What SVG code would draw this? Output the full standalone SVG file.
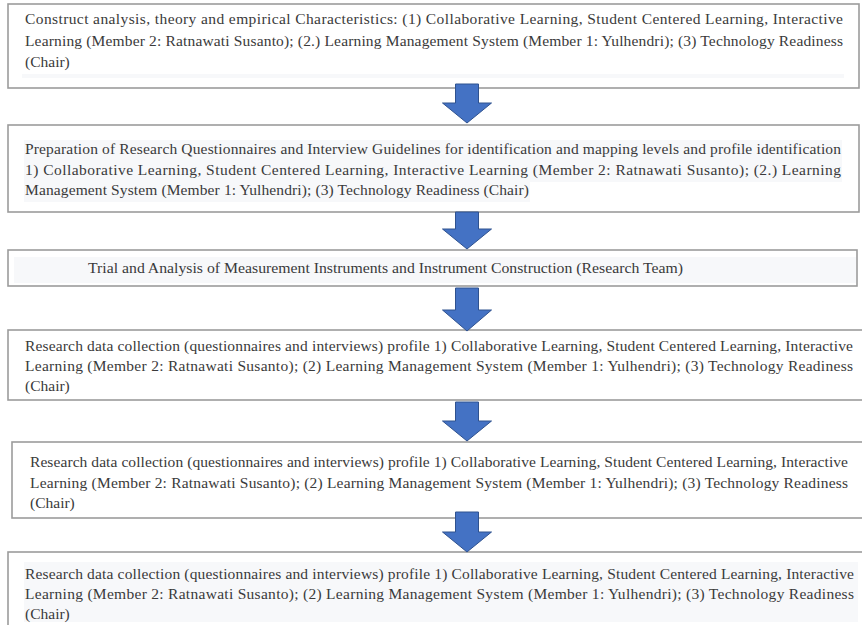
<svg xmlns="http://www.w3.org/2000/svg" width="862" height="625" viewBox="0 0 862 625">
<style>
.box{fill:#ffffff;stroke:#9c9c9c;stroke-width:1.6}
.hl{fill:#f7f8fa}
.t{font-family:"Liberation Serif","Times New Roman",serif;font-size:15.5px;fill:#3a3a3a}
.arrow{fill:#4472C4;stroke:#2F528F;stroke-width:1}
</style>
<rect width="862" height="625" fill="#ffffff"/>
<g id="node1">
<rect class="box" x="8" y="4" width="851" height="84"/>
<rect class="hl" x="22" y="74" width="822" height="4"/>
<text class="t" x="25" y="24" textLength="818" lengthAdjust="spacing">Construct analysis, theory and empirical Characteristics: (1) Collaborative Learning, Student Centered Learning, Interactive</text>
<text class="t" x="25" y="46" textLength="818" lengthAdjust="spacing">Learning (Member 2: Ratnawati Susanto); (2.) Learning Management System (Member 1: Yulhendri); (3) Technology Readiness</text>
<text class="t" x="25" y="67">(Chair)</text>
</g>
<g id="node2">
<rect class="box" x="8" y="125" width="851" height="87"/>
<rect class="hl" x="24" y="140" width="818" height="42"/>
<rect class="hl" x="24" y="182" width="506" height="20"/>
<text class="t" x="25" y="154" textLength="816" lengthAdjust="spacing">Preparation of Research Questionnaires and Interview Guidelines for identification and mapping levels and profile identification</text>
<text class="t" x="25" y="175" textLength="816" lengthAdjust="spacing">1) Collaborative Learning, Student Centered Learning, Interactive Learning (Member 2: Ratnawati Susanto); (2.) Learning</text>
<text class="t" x="25" y="195" textLength="504" lengthAdjust="spacing">Management System (Member 1: Yulhendri); (3) Technology Readiness (Chair)</text>
</g>
<g id="node3">
<rect class="box" x="8" y="250" width="849" height="36"/>
<rect class="hl" x="14" y="257" width="842" height="26"/>
<text class="t" x="88" y="273" textLength="595" lengthAdjust="spacingAndGlyphs">Trial and Analysis of Measurement Instruments and Instrument Construction (Research Team)</text>
</g>
<g id="node4">
<rect class="box" x="8" y="330" width="870" height="70"/>
<text class="t" x="25" y="351" textLength="828" lengthAdjust="spacing">Research data collection (questionnaires and interviews) profile 1) Collaborative Learning, Student Centered Learning, Interactive</text>
<text class="t" x="25" y="371" textLength="828" lengthAdjust="spacing">Learning (Member 2: Ratnawati Susanto); (2) Learning Management System (Member 1: Yulhendri); (3) Technology Readiness</text>
<text class="t" x="25" y="391">(Chair)</text>
</g>
<g id="node5">
<rect class="box" x="12" y="442" width="866" height="76"/>
<text class="t" x="30" y="467" textLength="818" lengthAdjust="spacing">Research data collection (questionnaires and interviews) profile 1) Collaborative Learning, Student Centered Learning, Interactive</text>
<text class="t" x="30" y="488" textLength="818" lengthAdjust="spacing">Learning (Member 2: Ratnawati Susanto); (2) Learning Management System (Member 1: Yulhendri); (3) Technology Readiness</text>
<text class="t" x="30" y="508">(Chair)</text>
</g>
<g id="node6">
<rect class="box" x="8" y="552" width="870" height="90"/>
<rect class="hl" x="24" y="562" width="834" height="60"/>
<text class="t" x="25" y="579" textLength="829" lengthAdjust="spacing">Research data collection (questionnaires and interviews) profile 1) Collaborative Learning, Student Centered Learning, Interactive</text>
<text class="t" x="25" y="599" textLength="829" lengthAdjust="spacing">Learning (Member 2: Ratnawati Susanto); (2) Learning Management System (Member 1: Yulhendri); (3) Technology Readiness</text>
<text class="t" x="25" y="619">(Chair)</text>
</g>
<g id="connectors">
<path class="arrow" d="M455.5,84 H478.5 V103 H491.5 L467,123 L442.5,103 H455.5 Z"/>
<path class="arrow" d="M455.5,212 H478.5 V229 H491.5 L467,249 L442.5,229 H455.5 Z"/>
<path class="arrow" d="M455.5,288 H478.5 V310 H491.5 L467,331 L442.5,310 H455.5 Z"/>
<path class="arrow" d="M455.5,402 H478.5 V421 H491.5 L467,441 L442.5,421 H455.5 Z"/>
<path class="arrow" d="M455.5,512 H478.5 V532 H491.5 L467,552 L442.5,532 H455.5 Z"/>
</g>
</svg>
